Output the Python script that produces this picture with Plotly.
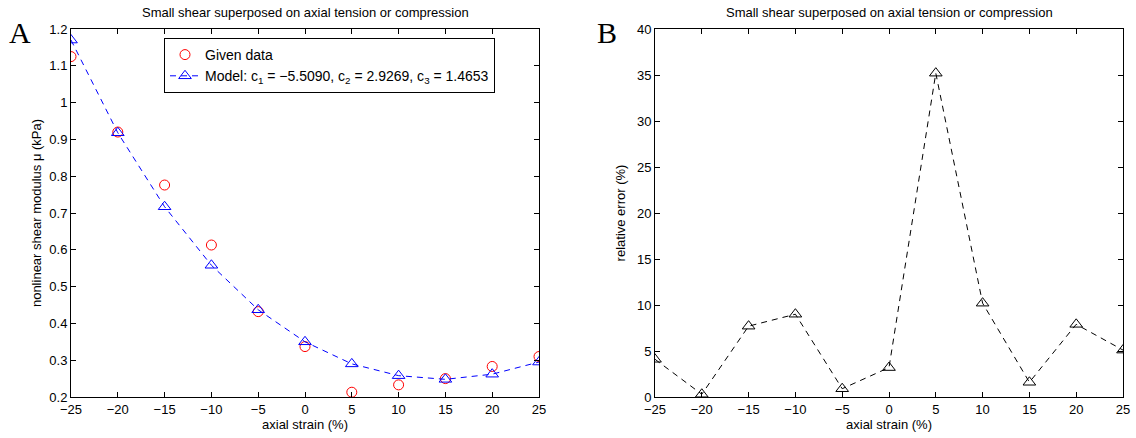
import plotly.graph_objects as go

strain = [-25, -20, -15, -10, -5, 0, 5, 10, 15, 20, 25]
given_mu = [1.125, 0.920, 0.776, 0.613, 0.432, 0.337, 0.213, 0.233, 0.250, 0.283, 0.310]
model_mu = [1.170, 0.918, 0.717, 0.558, 0.437, 0.350, 0.290, 0.258, 0.248, 0.262, 0.295]
rel_error = [4.1, 0.3, 7.7, 9.0, 0.9, 3.2, 35.2, 10.2, 1.6, 7.9, 5.1]

title_text = "Small shear superposed on axial tension or compression"
model_label = "Model: c<sub>1</sub> = \u22125.5090, c<sub>2</sub> = 2.9269, c<sub>3</sub> = 1.4653"

FONT = "Liberation Sans, Arial, sans-serif"

fig = go.Figure()
fig.add_trace(go.Scatter(x=strain, y=given_mu, mode="markers", name="Given data",
                         marker=dict(symbol="circle-open", size=10, color="#ff0000", line=dict(width=1)),
                         xaxis="x", yaxis="y"))
fig.add_trace(go.Scatter(x=strain, y=model_mu, mode="lines+markers", name=model_label,
                         line=dict(color="#0000ff", width=1, dash="6px,5px"),
                         marker=dict(symbol="triangle-up-open", size=11, color="#0000ff", line=dict(width=1)),
                         xaxis="x", yaxis="y"))
fig.add_trace(go.Scatter(x=strain, y=rel_error, mode="lines+markers", showlegend=False,
                         line=dict(color="#000000", width=1, dash="6px,5px"),
                         marker=dict(symbol="triangle-up-open", size=11, color="#000000", line=dict(width=1)),
                         xaxis="x2", yaxis="y2"))

ax_common = dict(showline=True, linecolor="black", linewidth=1, mirror="ticks", ticks="inside",
                 ticklen=5, tickcolor="black", showgrid=False, zeroline=False, automargin=False,
                 tickfont=dict(family=FONT, size=13, color="black"))

L1, R1 = 71, 539
L2, R2 = 655, 1123
yd = [1 - 397 / 438, 1 - 29 / 438]
fig.update_layout(
    width=1136, height=438, margin=dict(l=0, r=0, t=0, b=0),
    paper_bgcolor="white", plot_bgcolor="white",
    font=dict(family=FONT, size=13, color="black"),
    xaxis=dict(domain=[L1 / 1136, R1 / 1136], range=[-25, 25], dtick=5, anchor="y",
               title=dict(text="axial strain (%)", standoff=2, font=dict(size=13)), **ax_common),
    yaxis=dict(domain=yd, range=[0.2, 1.2], dtick=0.1, anchor="x",
               title=dict(text="nonlinear shear modulus \u03bc (kPa)", standoff=4, font=dict(size=13)), **ax_common),
    xaxis2=dict(domain=[L2 / 1136, R2 / 1136], range=[-25, 25], dtick=5, anchor="y2",
                title=dict(text="axial strain (%)", standoff=2, font=dict(size=13)), **ax_common),
    yaxis2=dict(domain=yd, range=[0, 40], dtick=5, anchor="x2",
                title=dict(text="relative error (%)", standoff=8, font=dict(size=13)), **ax_common),
    legend=dict(x=164 / 1136, y=1 - 38 / 438, xanchor="left", yanchor="top",
                bordercolor="black", borderwidth=1, bgcolor="white",
                font=dict(family=FONT, size=14, color="black"), tracegroupgap=0),
    showlegend=True,
)

for xc in [(L1 + R1) / 2 / 1136, (L2 + R2) / 2 / 1136]:
    fig.add_annotation(text=title_text, x=xc, y=1 - 12 / 438, xref="paper", yref="paper",
                       showarrow=False, font=dict(family=FONT, size=13, color="black"),
                       xanchor="center", yanchor="middle")

fig.add_annotation(text="A", x=20 / 1136, y=1 - 32 / 438, xref="paper", yref="paper", showarrow=False,
                   font=dict(family="Liberation Serif, Times New Roman, serif", size=30, color="black"),
                   xanchor="center", yanchor="middle")
fig.add_annotation(text="B", x=607 / 1136, y=1 - 32 / 438, xref="paper", yref="paper", showarrow=False,
                   font=dict(family="Liberation Serif, Times New Roman, serif", size=30, color="black"),
                   xanchor="center", yanchor="middle")

fig.write_html("out.html")
